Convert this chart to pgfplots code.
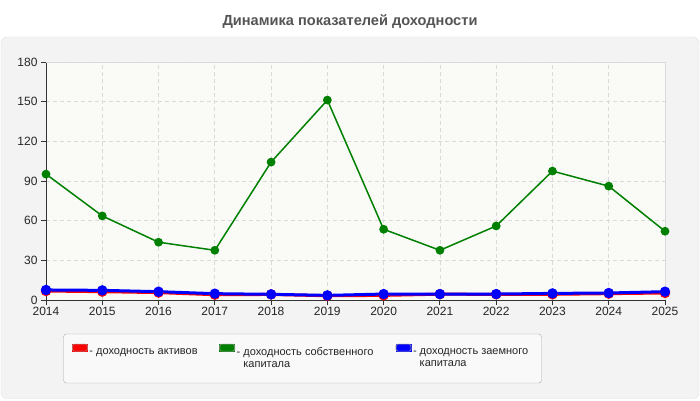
\documentclass[border=0pt]{standalone}
\usepackage{pgfplots}
\pgfplotsset{compat=1.18}
\usepackage{fontspec}
\setmainfont{Liberation Sans}
\usetikzlibrary{patterns}

\definecolor{panelgray}{HTML}{F3F3F3}
\definecolor{panelline}{HTML}{E2E2E2}
\definecolor{titlegray}{HTML}{555555}
\definecolor{legfill}{HTML}{F9F9F9}
\definecolor{legline}{HTML}{A8A8A8}
\definecolor{plotbg}{HTML}{FDFDF8}
\definecolor{gridgray}{HTML}{DADADA}
\definecolor{axisdark}{HTML}{333333}
\definecolor{cred}{HTML}{FF0000}
\definecolor{cgreen}{HTML}{008000}
\definecolor{cblue}{HTML}{0000FF}

\pgfplotsset{
  sw/.style={legend image code/.code={
      \begin{scope}[line width=0.6pt, solid]
      \fill[#1] (0pt,1.5pt) rectangle (15pt,8.5pt);
      \draw[draw=gray!80, fill=none, line width=0.6pt, rounded corners=1.5pt]
        (0pt,1.5pt) rectangle (15pt,8.5pt);
      \path[draw=none, fill=none] (0pt,0pt) -- (17pt,0pt);
      \end{scope}
  }},
}
\newcommand{\dashind}{\hspace*{6.7pt}}

\begin{document}
\begin{tikzpicture}
\useasboundingbox (0pt,0pt) rectangle (700pt,400pt);
\fill[white] (0pt,0pt) rectangle (700pt,400pt);
\draw[panelline, fill=panelgray, rounded corners=6pt] (1pt,1.5pt) rectangle (699pt,363pt);
\node[font=\bfseries\fontsize{14.6}{16}\selectfont, text=titlegray] at (350pt,378pt)
  {Динамика показателей доходности};
\draw[legline, fill=legfill, rounded corners=3pt] (63.5pt,17pt) rectangle (541.5pt,66pt);
\coordinate (O) at (46pt,100pt);

\begin{axis}[
  at={(O)}, anchor=south west,
  scale only axis, width=619pt, height=238pt,
  xmin=2014, xmax=2025, ymin=0, ymax=180,
  xtick={2014,...,2025}, ytick={0,30,...,180},
  axis x line*=bottom, axis y line*=left,
  axis line style={axisdark, line width=0.8pt, -},
  tick align=outside, major tick length=5pt,
  tick style={axisdark, line width=0.8pt},
  xticklabel style={/pgf/number format/1000 sep={}},
  /pgf/number format/assume math mode=true,
  ticklabel style={font=\fontsize{12}{14}\selectfont, text=black!85},
  xticklabel style={yshift=1pt},
  grid=major,
  major grid style={gridgray, dash pattern=on 4pt off 3pt, line width=0.7pt},
  axis background/.style={fill=plotbg, postaction={pattern=north east lines, pattern color=gray!6}},
  clip=false,
  legend columns=3,
  legend cell align=left,
  legend style={at={(axis description cs:0.037,-0.175)}, anchor=north west,
    draw=none, fill=none, font=\fontsize{11}{12}\selectfont, text=black!85,
    nodes={inner sep=0pt}, column sep=0pt},
]
\draw[gridgray, line width=0.8pt] (rel axis cs:0,1) -- (rel axis cs:1,1) -- (rel axis cs:1,0);

\addplot[cred, line width=3pt, mark=*, mark size=3.6pt, mark options={solid}, sw=cred]
  coordinates {(2014,6.8) (2015,6.3) (2016,5.6) (2017,4.0) (2018,4.2) (2019,3.2)
               (2020,3.5) (2021,4.4) (2022,4.3) (2023,4.3) (2024,4.8) (2025,5.3)};
\addlegendentry{\parbox[t]{130pt}{- доходность активов}}

\addplot[cgreen, line width=1.5pt, mark=*, mark size=3.6pt, mark options={solid}, sw=cgreen]
  coordinates {(2014,95.2) (2015,63.6) (2016,43.7) (2017,37.6) (2018,104.3) (2019,151.2)
               (2020,53.5) (2021,37.6) (2022,56.0) (2023,97.5) (2024,86.1) (2025,52.0)};
\addlegendentry{\parbox[t]{159pt}{- доходность собственного\\\dashind капитала}}

\addplot[cblue, line width=3pt, mark=*, mark size=3.6pt, mark options={solid}, sw=cblue]
  coordinates {(2014,7.6) (2015,7.3) (2016,6.3) (2017,4.8) (2018,4.3) (2019,3.5)
               (2020,4.5) (2021,4.5) (2022,4.5) (2023,5.0) (2024,5.3) (2025,6.3)};
\addlegendentry{\parbox[t]{130pt}{- доходность заемного\\\dashind капитала}}
\end{axis}
\end{tikzpicture}
\end{document}
